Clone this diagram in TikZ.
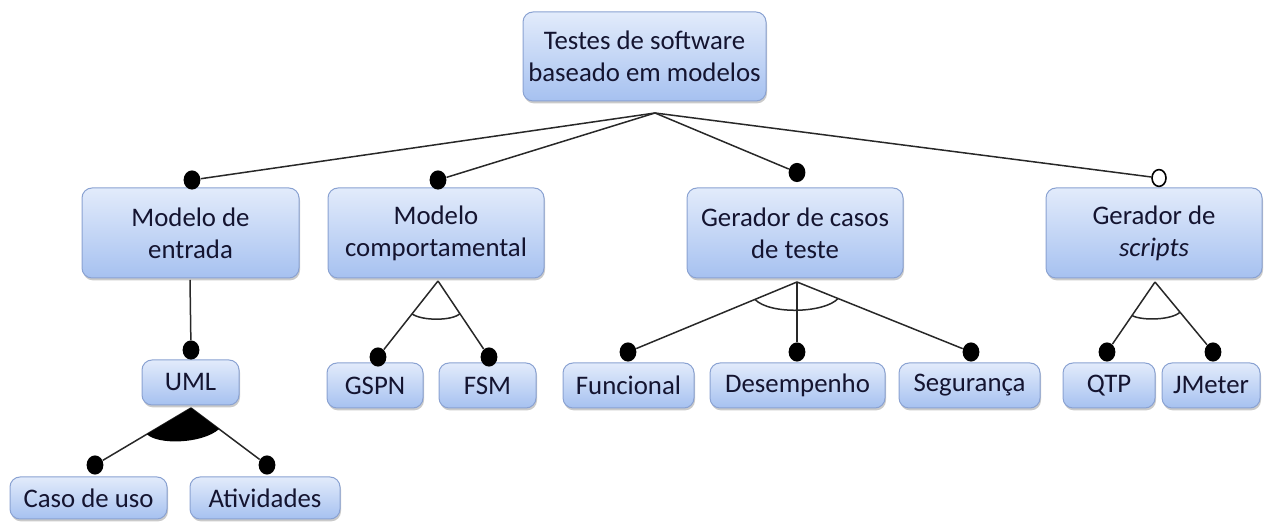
\documentclass[tikz,border=0pt]{standalone}
\usepackage{fontspec}
\setmainfont{Carlito}
\usetikzlibrary{shadows,calc,shapes.geometric}
\definecolor{txt}{RGB}{20,20,48}
\definecolor{boxtop}{RGB}{226,235,251}
\definecolor{boxbot}{RGB}{166,193,240}
\definecolor{boxline}{RGB}{138,162,210}
\definecolor{ln}{RGB}{40,40,40}
\begin{document}
\begin{tikzpicture}[x=0.5pt,y=0.5pt,
  box/.style={draw=boxline, line width=0.5pt, rounded corners=5pt,
    top color=boxtop, bottom color=boxbot, text=txt, align=center,
    inner sep=0pt, font=\fontsize{13.4}{16}\selectfont,
    drop shadow={shadow xshift=0.5pt, shadow yshift=-1.2pt, opacity=0.35, fill=black!60}},
  lvtwo/.style={box, minimum height=45pt},
  lvthree/.style={box, minimum height=22.5pt},
  lvfour/.style={box, minimum height=21pt},
  fdot/.style={ellipse, fill=black, inner sep=0pt, minimum width=8.4pt, minimum height=9.6pt},
  odot/.style={ellipse, draw=black, fill=white, line width=0.8pt, inner sep=0pt, minimum width=7pt, minimum height=8.4pt},
  conn/.style={draw=ln, line width=0.75pt},
  arcl/.style={draw=ln, line width=0.75pt}
]
\path[use as bounding box] (0,0) rectangle (1268,-522);

% boxes
\node[box, minimum width=121.5pt, minimum height=44.5pt] (root) at (644.5,-56.5) {Testes de software\\baseado em modelos};

\node[lvtwo, minimum width=108.5pt] (entrada) at (190.5,-233) {Modelo de\\entrada};
\node[lvtwo, minimum width=108pt] (comport) at (436,-233) {Modelo\\comportamental};
\node[lvtwo, minimum width=108pt] (casos) at (795,-233) {Gerador de casos\\de teste};
\node[lvtwo, minimum width=108pt] (scripts) at (1154,-233) {Gerador de\\\textit{scripts}};

\node[lvthree, minimum width=48.5pt] (uml) at (190.5,-382.5) {UML};
\node[lvthree, minimum width=48pt] (gspn) at (375,-385.5) {GSPN};
\node[lvthree, minimum width=48.5pt] (fsm) at (487.5,-385.5) {FSM};
\node[lvthree, minimum width=65.5pt] (func) at (628.5,-385.5) {Funcional};
\node[lvthree, minimum width=87.5pt] (desemp) at (797.5,-385.5) {Desempenho};
\node[lvthree, minimum width=70.5pt] (segur) at (969.5,-385.5) {Segurança};
\node[lvthree, minimum width=46pt] (qtp) at (1109,-385.5) {QTP};
\node[lvthree, minimum width=49pt] (jmeter) at (1211,-385.5) {JMeter};

\node[lvfour, minimum width=78.5pt] (caso) at (88.5,-498) {Caso de uso};
\node[lvfour, minimum width=75pt] (ativ) at (265,-498) {Atividades};

% junction points
\coordinate (rj) at (655,-113);
\coordinate (ve) at (190,-280);
\coordinate (vc) at (438,-281);
\coordinate (vg) at (797,-282);
\coordinate (vs) at (1155,-282);
\coordinate (vu) at (191,-408);

% dots
\node[fdot] (d1) at (192,-180) {};
\node[fdot] (d2) at (438,-180) {};
\node[fdot] (d3) at (797,-172.5) {};
\node[fdot] (du) at (191,-350) {};
\node[fdot] (dg) at (378,-357) {};
\node[fdot] (df) at (489,-357) {};
\node[fdot] (dfu) at (628,-352) {};
\node[fdot] (dde) at (797,-352) {};
\node[fdot] (dse) at (971,-352) {};
\node[fdot] (dq) at (1107,-352) {};
\node[fdot] (dj) at (1213,-352) {};
\node[fdot] (dc) at (95,-465) {};
\node[fdot] (da) at (267,-465) {};

% connectors
\draw[conn] (rj) -- (d1);
\draw[conn] (rj) -- (d2);
\draw[conn] (rj) -- (d3);
\draw[conn] (ve) -- (du);
\draw[conn] (vc) -- (dg);
\draw[conn] (vc) -- (df);
\draw[conn] (vg) -- (dfu);
\draw[conn] (vg) -- (dde);
\draw[conn] (vg) -- (dse);
\draw[conn] (vs) -- (dq);
\draw[conn] (vs) -- (dj);
\draw[conn] (vu) -- (dc);
\draw[conn] (vu) -- (da);

\node[odot] (d4) at (1159,-178) {};
\draw[conn] (rj) -- (d4);

% group arcs
\draw[arcl] ($(vc)!0.433!(dg.center)$) .. controls (422,-321) and (452,-321) .. ($(vc)!0.43!(df.center)$);
\draw[arcl] ($(vg)!0.249!(dfu.center)$) .. controls (770,-315) and (825,-313) .. ($(vg)!0.236!(dse.center)$);
\draw[arcl] ($(vs)!0.479!(dq.center)$) .. controls (1142,-321) and (1172,-320) .. ($(vs)!0.431!(dj.center)$);
\fill[black] (vu) -- ($(vu)!0.46!(dc.center)$) .. controls (158,-445) and (202,-444) .. ($(vu)!0.37!(da.center)$) -- cycle;
\end{tikzpicture}
\end{document}
